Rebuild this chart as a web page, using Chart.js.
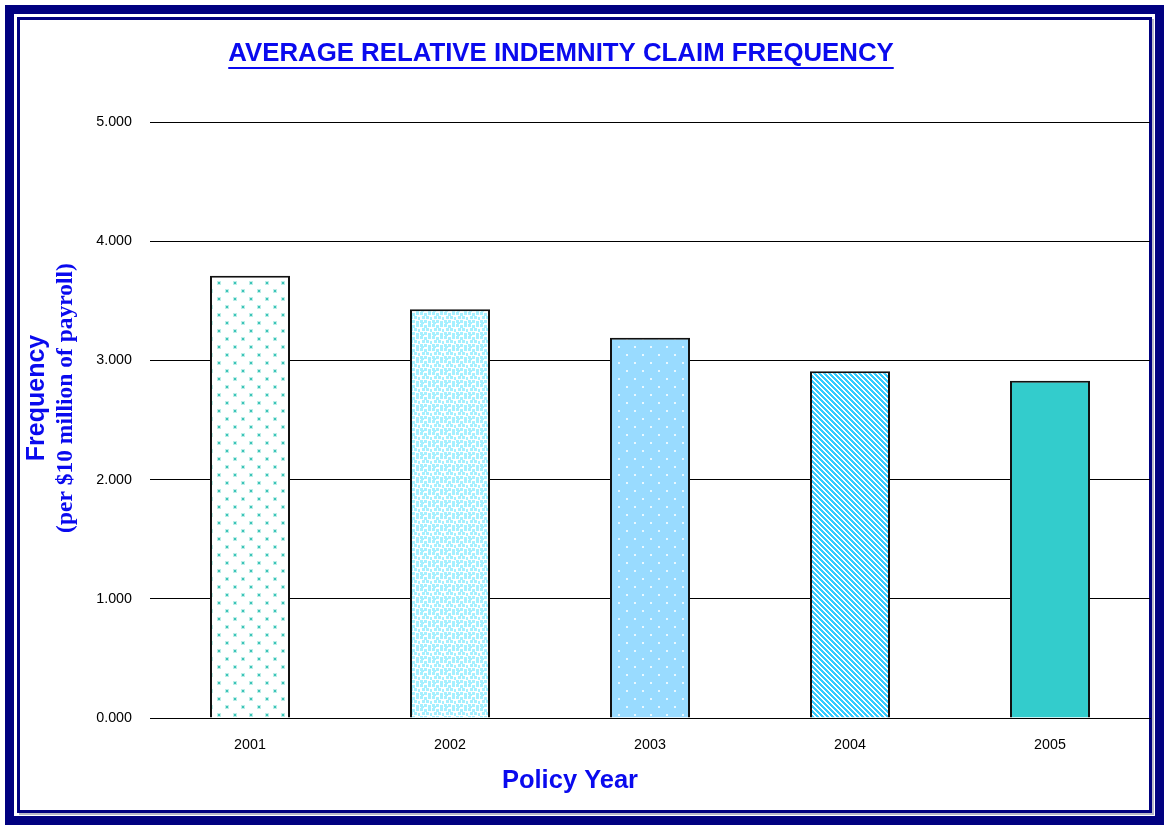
<!DOCTYPE html>
<html>
<head>
<meta charset="utf-8">
<script src="https://cdn.jsdelivr.net/npm/chart.js@4.4.1/dist/chart.umd.min.js"></script>
<style>
  html, body { margin:0; padding:0; background:#fff; }
  #wrap { position:relative; width:1164px; height:825px; overflow:hidden; }
  #outer { position:absolute; left:5px; top:5px; width:1159px; height:820px; box-sizing:border-box; border:9px solid #000080; }
  #inner { position:absolute; left:17px; top:17px; width:1135px; height:796px; box-sizing:border-box; border:3px solid #000080; box-shadow:2px 2px 0 #b8b8c8; }
  canvas { position:absolute; left:0; top:0; }
</style>
</head>
<body>
<div id="wrap">
  <div id="outer"></div>
  <div id="inner"></div>
  <canvas id="c" width="1164" height="825"></canvas>
</div>
<script>
const chartTitle = "AVERAGE RELATIVE INDEMNITY CLAIM FREQUENCY";
const xAxisTitle = "Policy Year";
const yAxisTitle1 = "Frequency";
const yAxisTitle2 = "(per $10 million of payroll)";
const categories = ["2001", "2002", "2003", "2004", "2005"];
const frequencies = [3.71, 3.43, 3.19, 2.91, 2.83];
const yTicks = [0, 1, 2, 3, 4, 5];

function tile(w, h, draw) {
  const c = document.createElement('canvas');
  c.width = w; c.height = h;
  const g = c.getContext('2d');
  draw(g);
  return document.getElementById('c').getContext('2d').createPattern(c, 'repeat');
}
const pat1 = tile(16, 16, g => {
  g.fillStyle = '#fff'; g.fillRect(0,0,16,16);
  g.fillStyle = '#bdeee8';
  g.fillRect(1,1,4,4); g.fillRect(9,9,4,4);
  g.fillStyle = '#3cc4b8';
  g.fillRect(2,2,2,2); g.fillRect(10,10,2,2);
});
const pat2 = tile(12, 12, g => {
  g.fillStyle = '#fff'; g.fillRect(0,0,12,12);
  g.fillStyle = '#a6f0ff';
  [[0,0],[4,1],[8,0],[2,4],[6,4],[10,5],[0,8],[4,8],[8,9],[1,10]].forEach(p => g.fillRect(p[0], p[1], 3, 3));
});
const pat3 = tile(16, 16, g => {
  g.fillStyle = '#99dbff'; g.fillRect(0,0,16,16);
  g.fillStyle = '#e8f7ff';
  g.fillRect(2,2,2,2); g.fillRect(10,10,2,2);
});
const pat4 = tile(5, 5, g => {
  g.fillStyle = '#fff'; g.fillRect(0,0,5,5);
  g.fillStyle = '#33ccff';
  for (let y = 0; y < 5; y++) for (let x = 0; x < 5; x++) {
    const d = ((x - y) % 5 + 5) % 5;
    if (d < 3) g.fillRect(x, y, 1, 1);
  }
});
const fills = [pat1, pat2, pat3, pat4, '#33cccc'];

const titlesPlugin = {
  id: 'titles',
  afterDraw(chart) {
    const ctx = chart.ctx;
    ctx.save();
    ctx.fillStyle = '#0a0aee';
    ctx.strokeStyle = '#0a0aee';
    ctx.textAlign = 'center';
    ctx.textBaseline = 'middle';
    ctx.font = 'bold 25.8px "Liberation Sans", Arial, sans-serif';
    ctx.fillText(chartTitle, 561, 54);
    const w = ctx.measureText(chartTitle).width;
    ctx.lineWidth = 2;
    ctx.beginPath(); ctx.moveTo(561 - w/2, 68); ctx.lineTo(561 + w/2, 68); ctx.stroke();
    ctx.font = 'bold 25.5px "Liberation Sans", Arial, sans-serif';
    ctx.fillText(xAxisTitle, 570, 781);
    ctx.translate(37, 398);
    ctx.rotate(-Math.PI/2);
    ctx.font = 'bold 25px "Liberation Sans", Arial, sans-serif';
    ctx.fillText(yAxisTitle1, 0, 0);
    ctx.rotate(Math.PI/2);
    ctx.translate(-37, -398);
    ctx.translate(66, 398);
    ctx.rotate(-Math.PI/2);
    ctx.font = 'bold 23.5px "Liberation Serif", "Times New Roman", serif';
    ctx.fillText(yAxisTitle2, 0, 0);
    ctx.restore();
  }
};

new Chart(document.getElementById('c'), {
  type: 'bar',
  data: {
    labels: categories,
    datasets: [{
      data: frequencies,
      backgroundColor: fills,
      borderColor: '#111',
      borderWidth: 2,
      barPercentage: 0.4,
      categoryPercentage: 1.0
    }]
  },
  options: {
    responsive: false,
    animation: false,
    devicePixelRatio: 1,
    layout: { padding: { top: 122, right: 14, left: 0, bottom: 0 } },
    plugins: { legend: { display: false }, tooltip: { enabled: false }, title: { display: false } },
    scales: {
      x: {
        grid: { display: false },
        border: { display: true, color: '#000', width: 1 },
        ticks: { color: '#000', font: { family: '"Liberation Sans", Arial, sans-serif', size: 14.3 }, padding: 10 },
        afterFit(s) { s.height = 107; }
      },
      y: {
        min: yTicks[0], max: yTicks[yTicks.length - 1],
        afterBuildTicks(s) { s.ticks = yTicks.map(v => ({ value: v })); },
        grid: { color: '#000', lineWidth: 1, drawTicks: false },
        border: { display: false },
        ticks: { color: '#000', font: { family: '"Liberation Sans", Arial, sans-serif', size: 14.3 }, padding: 18, callback: v => Number(v).toFixed(3) },
        afterFit(s) { s.width = 150; }
      }
    }
  },
  plugins: [titlesPlugin]
});
</script>
</body>
</html>
